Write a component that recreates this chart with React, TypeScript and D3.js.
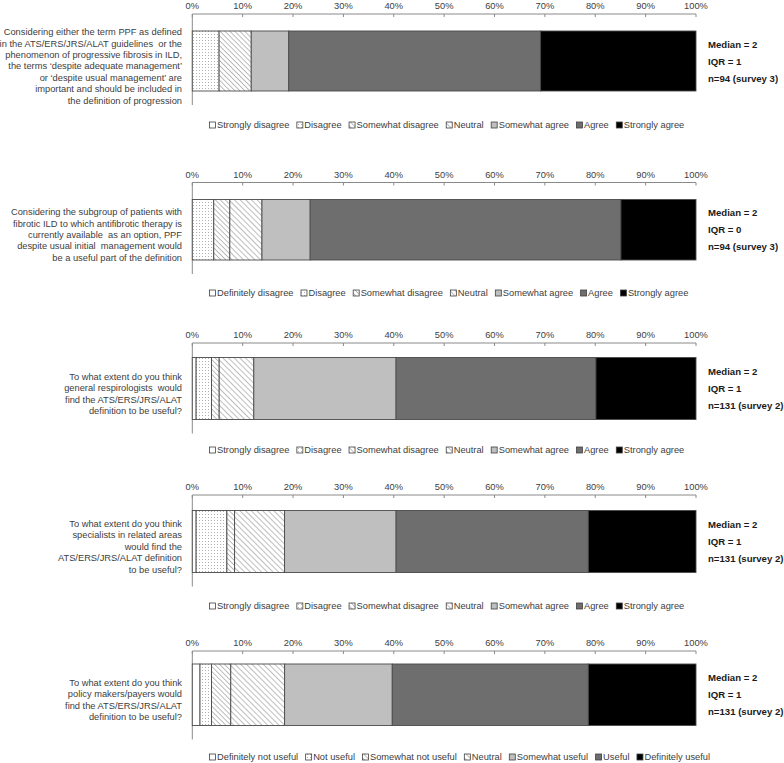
import React from "react";
import * as d3 from "d3";

const agreeLegend = ["Strongly disagree", "Disagree", "Somewhat disagree", "Neutral", "Somewhat agree", "Agree", "Strongly agree"];
const agreeLegend2 = ["Definitely disagree", "Disagree", "Somewhat disagree", "Neutral", "Somewhat agree", "Agree", "Strongly agree"];
const usefulLegend = ["Definitely not useful", "Not useful", "Somewhat not useful", "Neutral", "Somewhat useful", "Useful", "Definitely useful"];

const ticks = [0, 10, 20, 30, 40, 50, 60, 70, 80, 90, 100];

const values1 = [0, 5.32, 6.38, 0, 7.45, 50.0, 30.85];
const values2 = [0, 4.26, 3.19, 6.38, 9.57, 61.7, 14.9];
const values3 = [0.76, 3.05, 1.53, 6.87, 28.24, 39.69, 19.86];
const values4 = [0.76, 6.11, 1.53, 9.92, 22.14, 38.17, 21.37];
const values5 = [1.53, 2.29, 3.82, 10.69, 21.37, 38.93, 21.37];

const question1 = [
  "Considering either the term PPF as defined",
  "in the ATS/ERS/JRS/ALAT guidelines  or the",
  "phenomenon of progressive fibrosis in ILD,",
  "the terms \u2018despite adequate management\u2019",
  "or \u2018despite usual management\u2019 are",
  "important and should be included in",
  "the definition of progression",
];
const question2 = [
  "Considering the subgroup of patients with",
  "fibrotic ILD to which antifibrotic therapy is",
  "currently available  as an option, PPF",
  "despite usual initial  management would",
  "be a useful part of the definition",
];
const question3 = [
  "To what extent do you think",
  "general respirologists  would",
  "find the ATS/ERS/JRS/ALAT",
  "definition to be useful?",
];
const question4 = [
  "To what extent do you think",
  "specialists in related areas",
  "would find the",
  "ATS/ERS/JRS/ALAT definition",
  "to be useful?",
];
const question5 = [
  "To what extent do you think",
  "policy makers/payers would",
  "find the ATS/ERS/JRS/ALAT",
  "definition to be useful?",
];

const stats1 = ["Median = 2", "IQR = 1", "n=94 (survey 3)"];
const stats2 = ["Median = 2", "IQR = 0", "n=94 (survey 3)"];
const stats3 = ["Median = 2", "IQR = 1", "n=131 (survey 2)"];
const stats4 = ["Median = 2", "IQR = 1", "n=131 (survey 2)"];
const stats5 = ["Median = 2", "IQR = 1", "n=131 (survey 2)"];

const panels = [
  { values: values1, legend: agreeLegend, question: question1, stats: stats1, axisY: 14, barTop: 31, barBot: 91, legendY: 125 },
  { values: values2, legend: agreeLegend2, question: question2, stats: stats2, axisY: 182.5, barTop: 199.5, barBot: 260, legendY: 293 },
  { values: values3, legend: agreeLegend, question: question3, stats: stats3, axisY: 343, barTop: 357.5, barBot: 419.5, legendY: 450 },
  { values: values4, legend: agreeLegend, question: question4, stats: stats4, axisY: 495, barTop: 510.5, barBot: 572.5, legendY: 606 },
  { values: values5, legend: usefulLegend, question: question5, stats: stats5, axisY: 651, barTop: 664, barBot: 725.5, legendY: 757 },
];

const fills = ["#ffffff", "url(#dots)", "url(#hatchA)", "url(#hatchB)", "#bfbfbf", "#6e6e6e", "#000000"];
const FONT = "'Liberation Sans', Arial, sans-serif";
const FS = 9.3;

let ctx: CanvasRenderingContext2D | null = null;
function measure(t: string, size: number) {
  if (!ctx) ctx = document.createElement("canvas").getContext("2d");
  if (!ctx) return t.length * size * 0.5;
  ctx.font = `${size}px 'Liberation Sans'`;
  return ctx.measureText(t).width;
}

export default function App() {
  const x = d3.scaleLinear().domain([0, 100]).range([192.3, 696]);
  const W = 784, H = 763;
  return (
    <svg width={W} height={H} style={{ position: "absolute", left: 0, top: 0, background: "#fff" }} fontFamily={FONT}>
      <defs>
        <pattern id="dots" width="3" height="3" patternUnits="userSpaceOnUse">
          <rect width="3" height="3" fill="#fff" />
          <rect x="1" y="1" width="1" height="1" fill="#b0b0b0" />
        </pattern>
        <pattern id="hatchA" width="3.5" height="3.5" patternUnits="userSpaceOnUse" patternTransform="rotate(-45)">
          <rect width="3.5" height="3.5" fill="#fff" />
          <line x1="0" y1="0" x2="0" y2="3.5" stroke="#a8a8a8" strokeWidth="1.5" />
        </pattern>
        <pattern id="hatchB" width="4" height="4" patternUnits="userSpaceOnUse" patternTransform="rotate(-45)">
          <rect width="4" height="4" fill="#fff" />
          <line x1="0" y1="0" x2="0" y2="4" stroke="#a8a8a8" strokeWidth="1.5" />
        </pattern>
      </defs>
      <rect width={W} height={H} fill="#fff" />
      {panels.map((p, pi) => {
        const cum = d3.cumsum(p.values);
        const starts = p.values.map((v, i) => (i === 0 ? 0 : cum[i - 1]));
        const mid = (p.barTop + p.barBot) / 2;
        const qLH = 11.4;
        const qStart = mid + 5 - ((p.question.length - 1) * qLH) / 2 + 3.3;
        let lx = 209;
        const items = p.legend.map((name, i) => {
          const w = 8 + measure(name, FS);
          const item = { name, i, x: lx };
          lx += w + 7;
          return item;
        });
        return (
          <g key={pi}>
            <line x1={x(0)} x2={x(100)} y1={p.axisY} y2={p.axisY} stroke="#8a8a8a" strokeWidth={1} />
            <line x1={x(0)} x2={x(0)} y1={p.axisY} y2={p.barBot + 14} stroke="#8a8a8a" strokeWidth={1} />
            {ticks.map((t) => (
              <g key={t}>
                <line x1={x(t)} x2={x(t)} y1={p.axisY} y2={p.axisY + 3} stroke="#8a8a8a" />
                <text x={x(t)} y={p.axisY - 5} textAnchor="middle" fontSize={FS} fill="#404040">
                  {t}%
                </text>
              </g>
            ))}
            {p.values.map((v, i) =>
              v > 0 ? (
                <rect
                  key={i}
                  x={x(starts[i])}
                  y={p.barTop}
                  width={x(starts[i] + v) - x(starts[i])}
                  height={p.barBot - p.barTop}
                  fill={fills[i]}
                  stroke="#4a4a4a"
                  strokeWidth={0.9}
                />
              ) : null
            )}
            {p.question.map((line, li) => (
              <text key={li} x={182} y={qStart + li * qLH} textAnchor="end" fontSize={FS} fill="#404040" style={{ whiteSpace: "pre" }}>
                {line}
              </text>
            ))}
            {p.stats.map((s, si) => (
              <text key={si} x={708} y={mid - 17 + si * 17 + 3.5} fontSize={9.6} fontWeight="bold" fill="#1a1a1a">
                {s}
              </text>
            ))}
            {items.map((it) => (
              <g key={it.i}>
                <rect x={it.x + 0.5} y={p.legendY - 3} width={6} height={6} fill={fills[it.i]} stroke="#404040" strokeWidth={0.8} />
                <text x={it.x + 8} y={p.legendY + 3.3} fontSize={FS} fill="#404040">
                  {it.name}
                </text>
              </g>
            ))}
          </g>
        );
      })}
    </svg>
  );
}
